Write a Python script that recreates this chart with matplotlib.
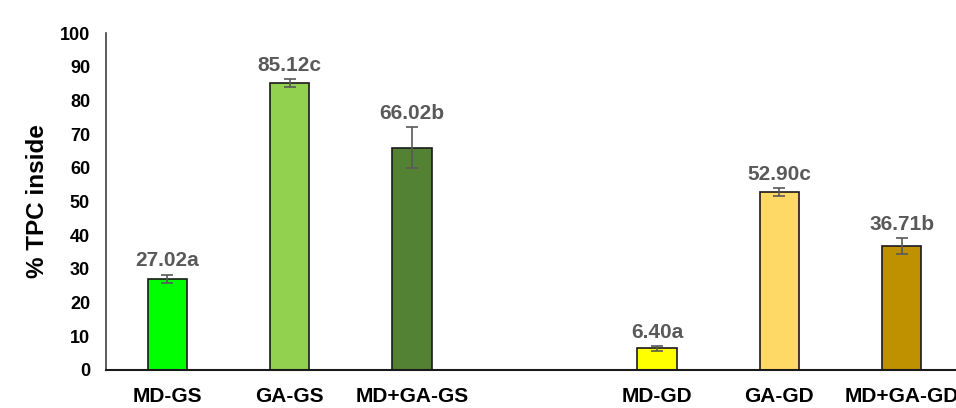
import matplotlib
matplotlib.use("Agg")
import matplotlib.pyplot as plt

categories = ["MD-GS", "GA-GS", "MD+GA-GS", "MD-GD", "GA-GD", "MD+GA-GD"]
values = [27.02, 85.12, 66.02, 6.40, 52.90, 36.71]
errors = [1.3, 1.1, 6.1, 0.8, 1.2, 2.4]
letters = ["a", "c", "b", "a", "c", "b"]
colors = ["#00FF00", "#92D050", "#548235", "#FFFF00", "#FFD966", "#BF9000"]
positions = [0, 1, 2, 4, 5, 6]

plt.rcParams["font.family"] = ["Liberation Sans", "DejaVu Sans"]

fig = plt.figure(figsize=(9.56, 4.08), dpi=100)
ax = fig.add_axes([106 / 956, (408 - 370) / 408, (963 - 106) / 956, (370 - 33) / 408])

ax.bar(positions, values, width=0.32, color=colors, edgecolor="#1a1a1a", linewidth=1.2, zorder=2)
ax.errorbar(positions, values, yerr=errors, fmt="none", ecolor="#595959",
            elinewidth=1.2, capsize=4, capthick=1.2, zorder=3)

for x, v, e, l in zip(positions, values, errors, letters):
    ax.annotate(f"{v:.2f}{l}", xy=(x, v + e), xytext=(0, 3), textcoords="offset points",
                ha="center", va="bottom", fontsize=15, fontweight="bold", color="#595959")

ax.set_xlim(-0.5, 6.5)
ax.set_ylim(0, 100)
ax.set_yticks(range(0, 101, 10))
ax.set_xticks(positions)
ax.set_xticklabels(categories)
ax.tick_params(axis="both", length=0)
ax.tick_params(axis="x", pad=12, labelsize=15)
ax.tick_params(axis="y", pad=11.5, labelsize=13)
for lab in ax.get_xticklabels() + ax.get_yticklabels():
    lab.set_fontweight("bold")

ax.set_ylabel("% TPC inside", fontsize=17.5, fontweight="bold", labelpad=8)

for side in ["top", "right"]:
    ax.spines[side].set_visible(False)
ax.spines["left"].set_color("#404040")
ax.spines["bottom"].set_color("#1a1a1a")
ax.spines["left"].set_linewidth(1.2)
ax.spines["bottom"].set_linewidth(1.5)

fig.savefig("out.png", dpi=100)
